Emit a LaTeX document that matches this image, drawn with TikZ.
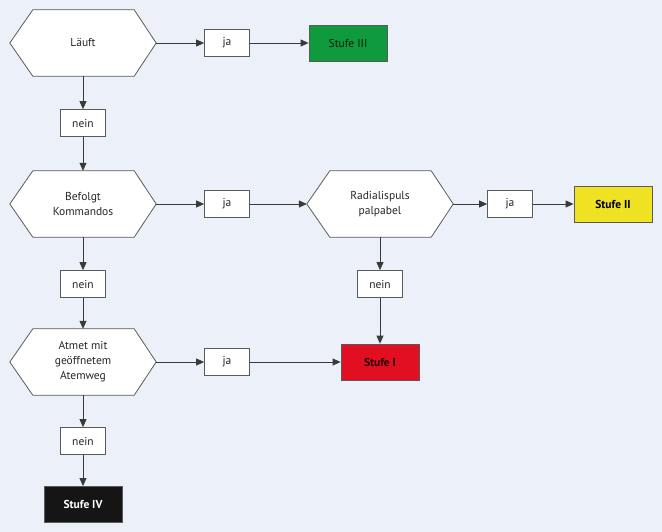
\documentclass[tikz,border=0pt]{standalone}
\usepackage{fontspec}
\setmainfont{PT Sans}
\usetikzlibrary{arrows.meta,backgrounds}
\definecolor{bgc}{HTML}{ECF0F8}
\definecolor{linec}{HTML}{3A3A3A}
\definecolor{boxc}{HTML}{5A5A5A}
\definecolor{gr}{HTML}{109A3E}
\definecolor{ye}{HTML}{EEE222}
\definecolor{re}{HTML}{E20F23}
\definecolor{bk}{HTML}{151515}
\tikzset{
  hexa/.style={draw=none, minimum width=146pt, minimum height=66pt, inner sep=0pt, align=center, font=\fontsize{11.5}{15}\selectfont, text=black!85},
  ans/.style={draw=boxc, fill=white, line width=0.7pt, minimum width=45pt, minimum height=27pt, inner sep=0pt, font=\fontsize{11.5}{14}\selectfont, text=black!85},
  stufe/.style={draw=boxc, line width=0.8pt, minimum width=78pt, minimum height=36pt, inner sep=0pt, font=\fontsize{11.5}{14}\selectfont},
  conn/.style={draw=linec, line width=0.8pt, -{Triangle[length=8pt,width=7pt]}},
  hexline/.style={draw=boxc, fill=white, line width=0.8pt}
}
\newcommand{\hexdraw}[1]{\path[hexline] (#1.west) -- ([xshift=23pt]#1.north west) -- ([xshift=-22pt]#1.north east) -- (#1.east) -- ([xshift=-22pt]#1.south east) -- ([xshift=23pt]#1.south west) -- cycle;}
\begin{document}
\begin{tikzpicture}[x=1pt,y=-1pt]
\useasboundingbox (0,0) rectangle (662,532);
% hexagon decisions
\node[hexa] (lauft) at (83,43) {Läuft};
\node[hexa] (befolgt) at (83,204) {Befolgt\\Kommandos};
\node[hexa] (radial) at (380,204) {Radialispuls\\palpabel};
\node[hexa] (atmet) at (83,362) {Atmet mit\\geöffnetem\\Atemweg};
% answers
\node[ans] (ja1) at (227,43) {ja};
\node[ans] (ja2) at (227,204) {ja};
\node[ans] (ja3) at (510,204) {ja};
\node[ans] (ja4) at (227,362) {ja};
\node[ans] (nein1) at (83,123) {nein};
\node[ans] (nein2) at (83,284) {nein};
\node[ans] (nein3) at (380,284) {nein};
\node[ans] (nein4) at (83,441) {nein};
% results
\node[stufe, fill=gr, text=black!80!gr] (s3) at (348,43) {Stufe III};
\node[stufe, fill=ye, text=black, font=\fontsize{11.5}{14}\selectfont\bfseries] (s2) at (613,204) {Stufe II};
\node[stufe, fill=re, text=black!85!re, font=\fontsize{11.5}{14}\selectfont\bfseries] (s1) at (380,362) {Stufe I};
\node[stufe, fill=bk, text=white, font=\fontsize{11.5}{14}\selectfont\bfseries] (s4) at (83,504.5) {Stufe IV};
\begin{scope}[on background layer]
  \fill[bgc] (0,0) rectangle (662,532);
  \hexdraw{lauft}
  \hexdraw{befolgt}
  \hexdraw{radial}
  \hexdraw{atmet}
\end{scope}
% connectors
\draw[conn] (lauft) -- (ja1);
\draw[conn] (ja1) -- (s3);
\draw[conn] (lauft) -- (nein1);
\draw[conn] (nein1) -- (befolgt);
\draw[conn] (befolgt) -- (ja2);
\draw[conn] (ja2) -- (radial);
\draw[conn] (radial) -- (ja3);
\draw[conn] (ja3) -- (s2);
\draw[conn] (befolgt) -- (nein2);
\draw[conn] (nein2) -- (atmet);
\draw[conn] (radial) -- (nein3);
\draw[conn] (nein3) -- (s1);
\draw[conn] (atmet) -- (ja4);
\draw[conn] (ja4) -- (s1);
\draw[conn] (atmet) -- (nein4);
\draw[conn] (nein4) -- (s4);
\end{tikzpicture}
\end{document}
